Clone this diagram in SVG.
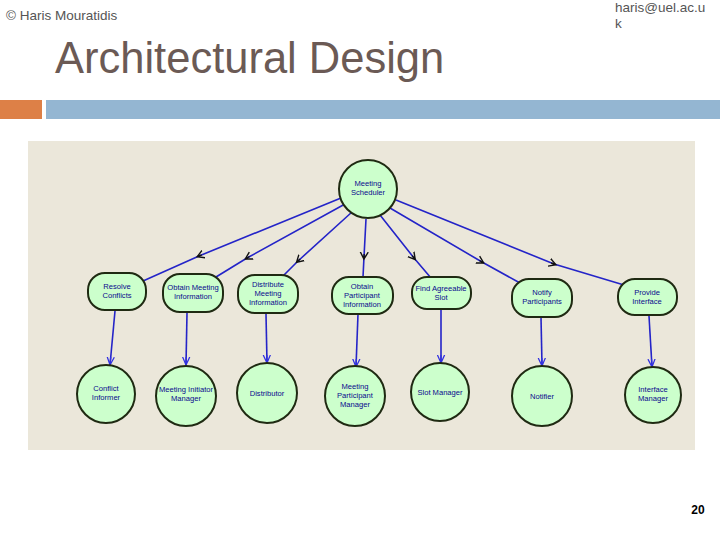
<svg xmlns="http://www.w3.org/2000/svg" width="720" height="540" viewBox="0 0 720 540">
<defs>
<style>
.hdr{font-family:"Liberation Sans",Arial,sans-serif;fill:#555555;font-size:13.5px}
.title{font-family:"Liberation Sans",Arial,sans-serif;fill:#6b5a55;font-size:43.5px}
.node{fill:#ccffcc;stroke:#1f2a12;stroke-width:2}
.lbl{font-family:"Liberation Sans",Arial,sans-serif;fill:#0a0a8c;font-size:7.6px;text-anchor:middle}
.edge{fill:none;stroke:#2424c8;stroke-width:1.6}
.mid{marker-mid:url(#mid)}
.end{marker-end:url(#endb)}
</style>
<marker id="mid" viewBox="0 0 10 10" refX="5" refY="5" markerWidth="10" markerHeight="10" markerUnits="userSpaceOnUse" orient="auto">
<path d="M0,1 L7,5 L0,9 M2,5 L7,5" fill="none" stroke="#111111" stroke-width="1.4"/>
</marker>
<marker id="endb" viewBox="0 0 10 10" refX="9" refY="5" markerWidth="9" markerHeight="9" markerUnits="userSpaceOnUse" orient="auto">
<path d="M0,1 L9,5 L0,9 M0,5 L9,5" fill="none" stroke="#3030e0" stroke-width="1.4"/>
</marker>
</defs>
<rect width="720" height="540" fill="#ffffff"/>
<text class="hdr" x="6" y="20">© Haris Mouratidis</text>
<text class="hdr" x="615" y="12">haris@uel.ac.u</text>
<text class="hdr" x="615" y="28">k</text>
<text class="title" x="55" y="73">Architectural Design</text>
<rect x="0" y="100" width="42" height="19" fill="#dd8047"/>
<rect x="46" y="100" width="674" height="19" fill="#94b6d2"/>
<rect x="28" y="141" width="667" height="309" fill="#ebe7da"/>
<g id="connectors">
<path class="edge mid" d="M341,198 L199,256 L143,281"/>
<path class="edge mid" d="M345,204 L247,258 L216,277"/>
<path class="edge mid" d="M352,212 L298,261 L283,276"/>
<path class="edge mid" d="M366,219 L364,257 L363,277"/>
<path class="edge mid" d="M380,215 L414,258 L431,278"/>
<path class="edge mid" d="M390,208 L482,262 L520,283"/>
<path class="edge mid" d="M396,200 L554,264 L624,285"/>
<path class="edge end" d="M115,311 L110,365"/>
<path class="edge end" d="M187,313 L186,365"/>
<path class="edge end" d="M266,314 L267,363"/>
<path class="edge end" d="M358,314 L356,367"/>
<path class="edge end" d="M441,309 L441,363"/>
<path class="edge end" d="M541,317 L542,366"/>
<path class="edge end" d="M649,316 L652,367"/>
</g>
<g id="meeting-scheduler">
<circle class="node" cx="368" cy="189" r="29"/>
<text class="lbl" x="368" y="186">Meeting</text>
<text class="lbl" x="368" y="195">Scheduler</text>
</g>
<g id="resolve-conflicts">
<rect class="node" x="88" y="273" width="58" height="37" rx="17"/>
<text class="lbl" x="117" y="289">Resolve</text>
<text class="lbl" x="117" y="298">Conflicts</text>
</g>
<g id="obtain-meeting-information">
<rect class="node" x="163" y="274" width="60" height="38" rx="17"/>
<text class="lbl" x="193" y="290">Obtain Meeting</text>
<text class="lbl" x="193" y="299">Information</text>
</g>
<g id="distribute-meeting-information">
<rect class="node" x="238" y="275" width="60" height="38" rx="17"/>
<text class="lbl" x="268" y="287">Distribute</text>
<text class="lbl" x="268" y="296">Meeting</text>
<text class="lbl" x="268" y="305">Information</text>
</g>
<g id="obtain-participant-information">
<rect class="node" x="332" y="277" width="61" height="37" rx="17"/>
<text class="lbl" x="362" y="289">Obtain</text>
<text class="lbl" x="362" y="298">Participant</text>
<text class="lbl" x="362" y="307">Information</text>
</g>
<g id="find-agreeable-slot">
<rect class="node" x="412" y="277" width="59" height="32" rx="15"/>
<text class="lbl" x="441" y="291">Find Agreeable</text>
<text class="lbl" x="441" y="300">Slot</text>
</g>
<g id="notify-participants">
<rect class="node" x="512" y="279" width="60" height="38" rx="17"/>
<text class="lbl" x="542" y="295">Notify</text>
<text class="lbl" x="542" y="304">Participants</text>
</g>
<g id="provide-interface">
<rect class="node" x="618" y="279" width="59" height="36" rx="17"/>
<text class="lbl" x="647" y="295">Provide</text>
<text class="lbl" x="647" y="304">Interface</text>
</g>
<g id="conflict-informer">
<circle class="node" cx="106" cy="394" r="29"/>
<text class="lbl" x="106" y="391">Conflict</text>
<text class="lbl" x="106" y="400">Informer</text>
</g>
<g id="meeting-initiator-manager">
<circle class="node" cx="186" cy="396" r="30"/>
<text class="lbl" x="186" y="392">Meeting Initiator</text>
<text class="lbl" x="186" y="401">Manager</text>
</g>
<g id="distributor">
<circle class="node" cx="267" cy="393" r="30"/>
<text class="lbl" x="267" y="396">Distributor</text>
</g>
<g id="meeting-participant-manager">
<circle class="node" cx="355" cy="396" r="30"/>
<text class="lbl" x="355" y="389">Meeting</text>
<text class="lbl" x="355" y="398">Participant</text>
<text class="lbl" x="355" y="407">Manager</text>
</g>
<g id="slot-manager">
<circle class="node" cx="440" cy="392" r="29"/>
<text class="lbl" x="440" y="395">Slot Manager</text>
</g>
<g id="notifier">
<circle class="node" cx="542" cy="396" r="30"/>
<text class="lbl" x="542" y="399">Notifier</text>
</g>
<g id="interface-manager">
<circle class="node" cx="653" cy="395" r="28"/>
<text class="lbl" x="653" y="392">Interface</text>
<text class="lbl" x="653" y="401">Manager</text>
</g>
<text x="698" y="514" font-family="Liberation Sans,Arial,sans-serif" font-size="12" font-weight="bold" fill="#000000" text-anchor="middle">20</text>
</svg>
